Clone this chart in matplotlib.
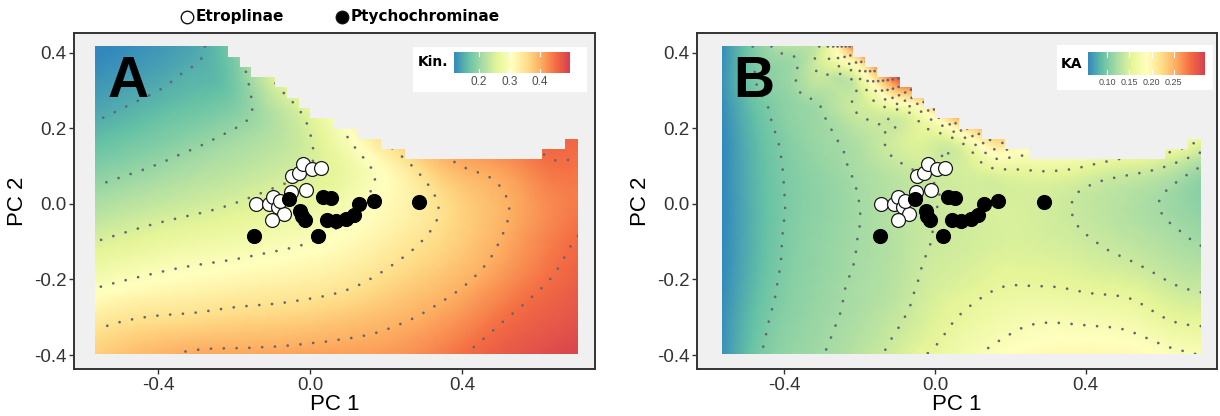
import numpy as np
import matplotlib
matplotlib.use('Agg')
import matplotlib.pyplot as plt
from matplotlib.colors import LinearSegmentedColormap, Normalize
from matplotlib.path import Path
from matplotlib.patches import PathPatch, Rectangle
from matplotlib.lines import Line2D
from matplotlib.tri import Triangulation, UniformTriRefiner

# ---------------- data ----------------
etro_x = [-0.142, -0.109, -0.097, -0.085, -0.068, -0.099, -0.080, -0.048, -0.030, -0.019, 0.005, 0.028, -0.050, -0.011]
etro_y = [-0.001, -0.001, 0.017, -0.008, -0.027, -0.043, 0.006, 0.074, 0.081, 0.104, 0.092, 0.094, 0.032, 0.036]
ptyc_x = [-0.147, -0.054, -0.025, -0.020, -0.012, 0.035, 0.054, 0.022, 0.044, 0.068, 0.095, 0.115, 0.130, 0.168, 0.288]
ptyc_y = [-0.084, 0.012, -0.018, -0.033, -0.043, 0.018, 0.016, -0.085, -0.043, -0.046, -0.041, -0.031, 0.000, 0.007, 0.004]

# extent of the predicted surface (column edges and top of each column)
hull_edges = [-0.565, -0.216, -0.185, -0.154, -0.092, -0.061, -0.030, 0.001, 0.063, 0.125, 0.187, 0.249, 0.610, 0.672, 0.705]
hull_tops = [0.416, 0.389, 0.362, 0.335, 0.308, 0.281, 0.253, 0.226, 0.199, 0.172, 0.145, 0.118, 0.145, 0.172]
hull_bottom = -0.397

grid_x = [-0.565, -0.474, -0.384, -0.293, -0.202, -0.112, -0.021, 0.070, 0.161, 0.251, 0.342, 0.433, 0.524, 0.614, 0.705]
grid_y = [-0.397, -0.316, -0.234, -0.153, -0.072, 0.010, 0.091, 0.172, 0.253, 0.335, 0.416]

# Kin. surface (rows follow grid_y from bottom to top)
kin = [
 [0.370, 0.386, 0.397, 0.406, 0.407, 0.408, 0.411, 0.413, 0.414, 0.422, 0.437, 0.455, 0.470, 0.481, 0.490],
 [0.343, 0.354, 0.360, 0.364, 0.369, 0.372, 0.376, 0.383, 0.391, 0.401, 0.415, 0.434, 0.454, 0.467, 0.478],
 [0.305, 0.316, 0.323, 0.327, 0.333, 0.337, 0.342, 0.349, 0.362, 0.377, 0.392, 0.411, 0.434, 0.453, 0.467],
 [0.270, 0.280, 0.290, 0.297, 0.302, 0.308, 0.314, 0.323, 0.337, 0.354, 0.371, 0.391, 0.415, 0.439, 0.458],
 [0.240, 0.250, 0.259, 0.266, 0.273, 0.281, 0.289, 0.302, 0.318, 0.335, 0.356, 0.379, 0.404, 0.429, 0.448],
 [0.212, 0.222, 0.231, 0.239, 0.247, 0.257, 0.266, 0.280, 0.305, 0.325, 0.353, 0.380, 0.401, 0.426, 0.440],
 [0.186, 0.196, 0.206, 0.217, 0.226, 0.236, 0.247, 0.266, 0.299, 0.337, 0.379, 0.402, 0.417, 0.441, 0.445],
 [0.162, 0.172, 0.183, 0.194, 0.207, 0.220, 0.241, 0.282, 0.334, 0.380, 0.412, 0.432, 0.444, 0.456, 0.455],
 [0.142, 0.152, 0.162, 0.171, 0.184, 0.217, 0.255, 0.306, 0.362, 0.405, 0.433, 0.450, 0.460, 0.466, 0.467],
 [0.127, 0.136, 0.145, 0.155, 0.175, 0.242, 0.287, 0.330, 0.377, 0.416, 0.443, 0.460, 0.469, 0.474, 0.475],
 [0.115, 0.123, 0.133, 0.146, 0.184, 0.246, 0.300, 0.342, 0.383, 0.419, 0.445, 0.462, 0.472, 0.478, 0.481],
]
# KA surface
ka = [
 [0.062, 0.096, 0.113, 0.120, 0.131, 0.144, 0.160, 0.172, 0.185, 0.192, 0.196, 0.196, 0.194, 0.186, 0.179],
 [0.061, 0.092, 0.109, 0.117, 0.126, 0.137, 0.150, 0.163, 0.172, 0.179, 0.180, 0.178, 0.174, 0.163, 0.158],
 [0.059, 0.088, 0.106, 0.115, 0.123, 0.131, 0.145, 0.153, 0.161, 0.163, 0.162, 0.159, 0.156, 0.146, 0.140],
 [0.058, 0.085, 0.104, 0.113, 0.121, 0.129, 0.141, 0.146, 0.152, 0.152, 0.150, 0.145, 0.140, 0.132, 0.126],
 [0.057, 0.084, 0.103, 0.112, 0.120, 0.129, 0.139, 0.143, 0.147, 0.147, 0.143, 0.137, 0.130, 0.123, 0.115],
 [0.057, 0.084, 0.102, 0.111, 0.120, 0.130, 0.138, 0.143, 0.146, 0.146, 0.142, 0.134, 0.127, 0.118, 0.108],
 [0.057, 0.085, 0.103, 0.113, 0.123, 0.134, 0.143, 0.146, 0.159, 0.161, 0.161, 0.152, 0.145, 0.136, 0.117],
 [0.057, 0.087, 0.106, 0.117, 0.128, 0.143, 0.152, 0.170, 0.230, 0.210, 0.210, 0.200, 0.190, 0.185, 0.160],
 [0.060, 0.092, 0.110, 0.122, 0.142, 0.162, 0.205, 0.300, 0.320, 0.300, 0.280, 0.260, 0.250, 0.240, 0.200],
 [0.062, 0.101, 0.116, 0.138, 0.160, 0.290, 0.330, 0.360, 0.370, 0.360, 0.340, 0.320, 0.300, 0.280, 0.250],
 [0.060, 0.104, 0.130, 0.150, 0.300, 0.340, 0.380, 0.400, 0.390, 0.380, 0.360, 0.340, 0.320, 0.300, 0.270],
]
kin_levels = [0.15, 0.20, 0.25, 0.30, 0.35, 0.40, 0.45]
ka_levels = [0.10, 0.12, 0.14, 0.16, 0.18, 0.20, 0.22, 0.24, 0.26, 0.28, 0.30]
kin_ticks = [0.2, 0.3, 0.4]
ka_ticks = [0.10, 0.15, 0.20, 0.25]
kin_range = (0.118, 0.498)
ka_range = (0.057, 0.320)
groups = ['Etroplinae', 'Ptychochrominae']

# ---------------- drawing ----------------
cmap = LinearSegmentedColormap.from_list('spectral9', ['#3288BD', '#66C2A5', '#ABDDA4', '#E6F598', '#FFFFBF',
                                                       '#FEE08B', '#FDAE61', '#F46D43', '#D53E4F'])
W, H = 1220, 416
def fx(px): return px / W
def fy(py): return 1 - py / H

plt.rcParams['font.family'] = ['Liberation Sans', 'DejaVu Sans']
fig = plt.figure(figsize=(12.2, 4.16), dpi=100)
fig.patch.set_facecolor('white')

def hull_path():
    verts = [(hull_edges[0], hull_bottom), (hull_edges[-1], hull_bottom)]
    for i in range(len(hull_tops) - 1, -1, -1):
        verts.append((hull_edges[i + 1], hull_tops[i]))
        verts.append((hull_edges[i], hull_tops[i]))
    verts.append(verts[0])
    return Path(verts, closed=True)

def panel(rect, xlim, surface, levels, norm):
    ax = fig.add_axes(rect)
    ax.set_facecolor('#F0F0F0')
    X, Y = np.meshgrid(grid_x, grid_y)
    tri = Triangulation(X.ravel(), Y.ravel())
    tr, zr = UniformTriRefiner(tri).refine_field(np.asarray(surface).ravel(), subdiv=3)
    mesh = ax.tripcolor(tr, zr, shading='gouraud', cmap=cmap, norm=norm, zorder=1)
    cs = ax.tricontour(tr, zr, levels=levels, colors='#646474', linewidths=2.0, zorder=2)
    cs.set_linestyle((0, (0.01, 4.6)))
    cs.set_capstyle('round')
    clip = PathPatch(hull_path(), transform=ax.transData, facecolor='none', edgecolor='none')
    ax.add_patch(clip)
    mesh.set_clip_path(clip)
    cs.set_clip_path(clip)
    ax.scatter(etro_x, etro_y, s=100, facecolor='white', edgecolor='#1a1a1a', linewidth=0.9, zorder=4)
    ax.scatter(ptyc_x, ptyc_y, s=100, facecolor='black', edgecolor='black', linewidth=0.9, zorder=5)
    ax.set_xlim(*xlim)
    ax.set_ylim(-0.437, 0.4516)
    ax.set_xticks([-0.4, 0.0, 0.4])
    ax.set_yticks([-0.4, -0.2, 0.0, 0.2, 0.4])
    ax.set_xticklabels(['-0.4', '0.0', '0.4'])
    ax.set_yticklabels(['-0.4', '-0.2', '0.0', '0.2', '0.4'])
    ax.tick_params(length=3.5, width=1, color='#333333', labelsize=13.5, labelcolor='#333333', pad=2)
    for s in ax.spines.values():
        s.set_color('#333333')
        s.set_linewidth(1.4)
    ax.set_xlabel('PC 1', fontsize=16, labelpad=0)
    ax.set_ylabel('PC 2', fontsize=16, labelpad=4)
    return ax

axA = panel([fx(74), fy(369), fx(595) - fx(74), fy(33) - fy(369)], (-0.621, 0.750), kin, kin_levels, Normalize(*kin_range))
axB = panel([fx(697), fy(369), fx(1217) - fx(697), fy(33) - fy(369)], (-0.631, 0.748), ka, ka_levels, Normalize(*ka_range))

fig.text(fx(108), fy(97), 'A', fontsize=41, fontweight='bold', va='baseline', ha='left', zorder=8)
fig.text(fx(733), fy(97), 'B', fontsize=41, fontweight='bold', va='baseline', ha='left', zorder=8)

def cbar(box, bar, title, tx, rng, ticks, fmt, fs):
    fig.patches.append(Rectangle((fx(box[0]), fy(box[3])), fx(box[2]) - fx(box[0]), fy(box[1]) - fy(box[3]),
                                 transform=fig.transFigure, facecolor='white', edgecolor='none', zorder=5))
    cax = fig.add_axes([fx(bar[0]), fy(bar[3]), fx(bar[2]) - fx(bar[0]), fy(bar[1]) - fy(bar[3])], zorder=6)
    sm = plt.cm.ScalarMappable(norm=Normalize(*rng), cmap=cmap)
    cb = fig.colorbar(sm, cax=cax, orientation='horizontal', ticks=ticks)
    cb.outline.set_visible(False)
    cax.set_xticklabels([fmt % t for t in ticks])
    cax.tick_params(length=0, labelsize=fs, labelcolor='#4d4d4d', pad=2)
    for t in ticks:
        cax.plot([t, t], [0, 0.2], color='white', lw=0.8)
        cax.plot([t, t], [0.8, 1], color='white', lw=0.8)
    fig.text(fx(tx), fy((bar[1] + bar[3]) / 2), title, fontsize=10, fontweight='bold', va='center', ha='left',
             family=['DejaVu Sans'], zorder=7)

cbar((413, 47, 587, 92), (454, 52, 570, 73), 'Kin.', 418, kin_range, kin_ticks, '%.1f', 8.5)
cbar((1057, 45, 1213, 90), (1088, 52, 1205, 75), 'KA', 1061, ka_range, ka_ticks, '%.2f', 6.5)

# legend on top
for cx, face, label in [(187, 'white', groups[0]), (342, 'black', groups[1])]:
    fig.add_artist(Line2D([fx(cx)], [fy(17)], transform=fig.transFigure, marker='o', ls='none', markersize=9,
                          markerfacecolor=face, markeredgecolor='#111111', markeredgewidth=1.0))
    fig.text(fx(cx + 9), fy(17), label, fontsize=11, fontweight='bold', family=['DejaVu Sans'], va='center', ha='left')

fig.savefig('out.png', dpi=100)
